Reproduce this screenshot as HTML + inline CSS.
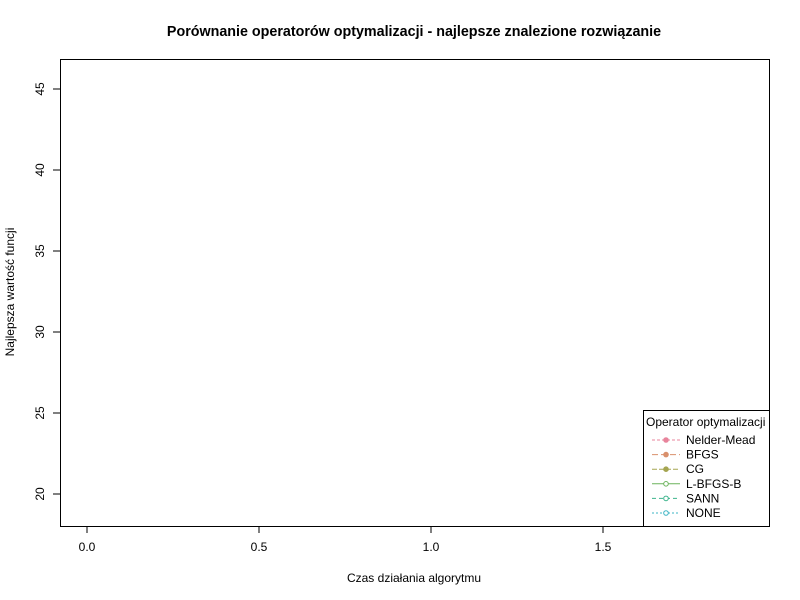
<!DOCTYPE html>
<html><head><meta charset="utf-8"><style>
body{margin:0;background:#fff;}
svg{display:block;font-family:"Liberation Sans",Arial,sans-serif;}
</style></head><body>
<svg id="chart" width="800" height="600">
<rect width="800" height="600" fill="#fff"/>
<text x="414" y="36" font-size="14.3" font-weight="bold" text-anchor="middle">Porównanie operatorów optymalizacji - najlepsze znalezione rozwiązanie</text>
<rect x="60.5" y="59.5" width="709" height="467" fill="none" stroke="#000"/>
<text x="414" y="582" font-size="12" text-anchor="middle">Czas działania algorytmu</text>
<text transform="translate(14,292) rotate(-90)" font-size="12" text-anchor="middle">Najlepsza wartość funcji</text>
<g id="xaxis"></g>
<g id="yaxis"></g>
<g id="series"></g>
<g id="legend">
<rect x="643.5" y="410.5" width="126" height="116" fill="#fff" stroke="#000"/>
<text x="646" y="426" font-size="12">Operator optymalizacji</text>
</g>
</svg>
<script>
const xTicks=[0.0,0.5,1.0,1.5];
const yTicks=[20,25,30,35,40,45];
const seriesNames=["Nelder-Mead","BFGS","CG","L-BFGS-B","SANN","NONE"];
const seriesColors=["#E8849C","#D9906C","#A5A550","#6CB45C","#3CB48C","#3CB4C4"];
const seriesX=[[],[],[],[],[],[]];
const seriesY=[[],[],[],[],[],[]];
const NS="http://www.w3.org/2000/svg";
function xs(v){return 87+v*344;}
function ys(v){return 494-(v-20)*16.2;}
function mk(t,a,p){const e=document.createElementNS(NS,t);for(const k in a)e.setAttribute(k,a[k]);p.appendChild(e);return e;}
const xa=document.getElementById('xaxis');
mk('line',{x1:xs(0),x2:xs(1.5),y1:526.5,y2:526.5,stroke:'#000'},xa);
xTicks.forEach(v=>{mk('line',{x1:xs(v),x2:xs(v),y1:526,y2:533,stroke:'#000'},xa);
const t=mk('text',{x:xs(v),y:551,'font-size':12,'text-anchor':'middle'},xa);t.textContent=v.toFixed(1);

});
const ya=document.getElementById('yaxis');
mk('line',{x1:60.5,x2:60.5,y1:ys(20),y2:ys(45),stroke:'#000'},ya);
yTicks.forEach(v=>{mk('line',{x1:53,x2:60,y1:ys(v),y2:ys(v),stroke:'#000'},ya);
const t=mk('text',{transform:`translate(44,${ys(v)}) rotate(-90)`,'font-size':12,'text-anchor':'middle'},ya);t.textContent=v;

});
const sg=document.getElementById('series');
seriesX.forEach((xsv,i)=>{const pts=xsv.map((x,j)=>xs(x)+','+ys(seriesY[i][j])).join(' ');
if(xsv.length){const p=mk('polyline',{points:pts,fill:'none',stroke:seriesColors[i]},sg);

}});
const lg=document.getElementById('legend');
const dashes=["3,2","6,3","5,2","0","4,3","2,2"];
seriesNames.forEach((n,i)=>{const y=440+i*14.6;
const g=mk('g',{},lg);


mk('line',{x1:652,x2:680,y1:y,y2:y,stroke:seriesColors[i],'stroke-dasharray':dashes[i]},g);
mk('circle',{cx:666,cy:y,r:2.3,fill:i<3?seriesColors[i]:'#fff',stroke:seriesColors[i]},g);
const t=mk('text',{x:686,y:y+4,'font-size':12},g);t.textContent=n;});
</script>
</body></html>
